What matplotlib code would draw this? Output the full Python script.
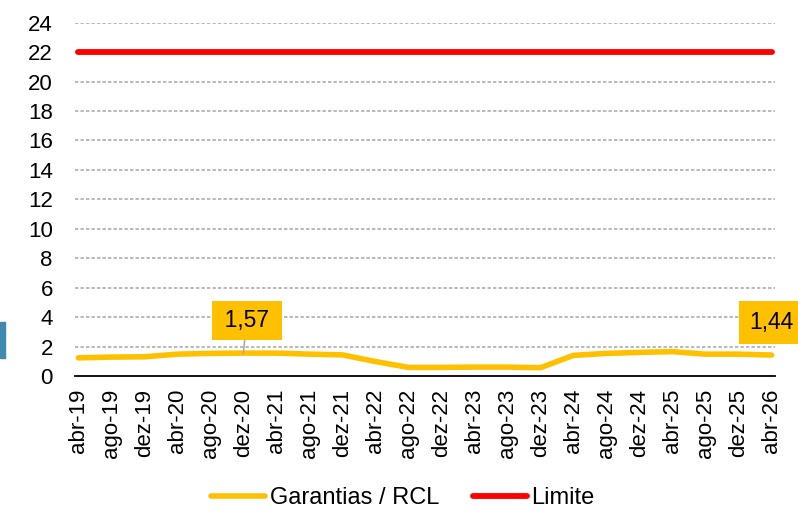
import matplotlib.pyplot as plt
from matplotlib.patches import Rectangle

plt.rcParams['font.family'] = ['Liberation Sans', 'DejaVu Sans']

# dados
meses = ["abr-19", "ago-19", "dez-19", "abr-20", "ago-20", "dez-20", "abr-21", "ago-21",
         "dez-21", "abr-22", "ago-22", "dez-22", "abr-23", "ago-23", "dez-23", "abr-24",
         "ago-24", "dez-24", "abr-25", "ago-25", "dez-25", "abr-26"]
garantias = [1.25, 1.30, 1.32, 1.50, 1.55, 1.57, 1.57, 1.50, 1.45, 1.00, 0.60, 0.60,
             0.62, 0.62, 0.58, 1.42, 1.55, 1.62, 1.67, 1.50, 1.50, 1.44]
limite = [22] * len(meses)

x = list(range(len(meses)))

fig = plt.figure(figsize=(7.98, 5.14), dpi=100)
ax = fig.add_axes([0.094, 0.268, 0.877, 0.688])

ax.plot(x, garantias, color="#FFC000", lw=4.0, solid_capstyle="round", label="Garantias / RCL")
ax.plot(x, limite, color="#FF0000", lw=4.2, solid_capstyle="round", label="Limite")

ax.set_ylim(0, 24)
ax.set_xlim(-0.1, 21.1)
ax.set_yticks(range(0, 25, 2))
ax.set_xticks(x)
ax.set_xticklabels(meses, rotation=90)
ax.tick_params(axis="both", length=0, labelsize=16)
ax.tick_params(axis="y", pad=16)
ax.tick_params(axis="x", pad=9)
for s in ["top", "right", "left"]:
    ax.spines[s].set_visible(False)
ax.spines["bottom"].set_color("black")
ax.spines["bottom"].set_linewidth(1.3)
for v in range(2, 25, 2):
    ax.axhline(v, color="#A6A6A6", lw=1.1, ls=(0, (2.2, 1.4)), zorder=0)

# rótulos de dados
box = dict(boxstyle="square,pad=0.36", fc="#FFC000", ec="none")
ax.annotate("\u20091,57\u2009", xy=(5, garantias[5]), xytext=(5.1, 3.8), ha="center", va="center",
            fontsize=16.5, bbox=box,
            arrowprops=dict(arrowstyle="-", color="#A6A6A6", lw=1.1, shrinkA=0, shrinkB=0))
ax.annotate("1,44", xy=(21, garantias[21]), xytext=(21.0, 3.65), ha="center", va="center",
            fontsize=16.5, bbox=dict(boxstyle="square,pad=0.45", fc="#FFC000", ec="none"),
            annotation_clip=False)

fig.patches.append(Rectangle((0, 0.303), 0.006, 0.07, transform=fig.transFigure,
                             color="#3F88B0"))

fig.legend(loc="lower center", bbox_to_anchor=(0.505, -0.032), ncol=2, frameon=False,
           fontsize=17, handlelength=2.3, handletextpad=0.2, columnspacing=1.4)

fig.savefig("out.png", dpi=100)
